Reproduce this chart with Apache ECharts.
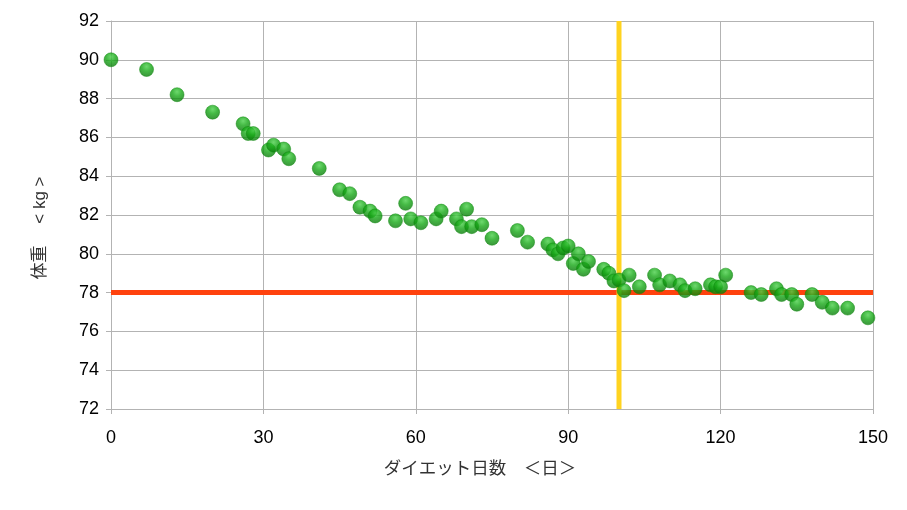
<!DOCTYPE html>
<html>
<head>
<meta charset="utf-8">
<script src="https://cdn.jsdelivr.net/npm/echarts@6/dist/echarts.min.js"></script>
<style>html,body{margin:0;padding:0;background:#fff}#c{width:907px;height:510px}</style>
</head>
<body>
<div id="c"></div>
<script>
var days = [0,7,13,20,26,27,28,31,32,34,35,41,45,47,49,51,52,56,58,59,61,64,65,68,69,70,71,73,75,80,82,86,87,88,89,90,91,92,93,94,97,98,99,100,101,102,104,107,108,110,112,113,115,118,119,120,121,126,128,131,132,134,135,138,140,142,145,149];
var weights = [90.0,89.5,88.2,87.3,86.7,86.2,86.2,85.35,85.6,85.4,84.9,84.4,83.3,83.1,82.4,82.2,81.95,81.7,82.6,81.8,81.6,81.8,82.2,81.8,81.4,82.3,81.4,81.5,80.8,81.2,80.6,80.5,80.2,80.0,80.3,80.4,79.5,80.0,79.2,79.6,79.2,79.0,78.6,78.65,78.1,78.9,78.3,78.9,78.4,78.6,78.4,78.1,78.2,78.4,78.3,78.3,78.9,78.0,77.9,78.2,77.9,77.9,77.4,77.9,77.5,77.2,77.2,76.7];
var targetX = [0,150];
var targetY = [78,78];
var markX = [100,100];
var markY = [72,92];
var xTicks = [0,30,60,90,120,150];
var yTicks = [72,74,76,78,80,82,84,86,88,90,92];

function zip(a,b){return a.map(function(v,i){return [v,b[i]];});}

var chart = echarts.init(document.getElementById('c'), null, {renderer:'canvas'});
var font = '"Liberation Sans", Arial, sans-serif';
var jfont = '"Liberation Sans", "Noto Sans CJK JP", sans-serif';
chart.setOption({
  animation:false,
  grid:{left:111,right:34,top:21,bottom:101,containLabel:false},
  xAxis:{
    type:'value', min:xTicks[0], max:xTicks[xTicks.length-1], interval:30,
    name:'ダイエット日数　＜日＞', nameLocation:'middle', nameGap:51,
    nameTextStyle:{color:'#333',fontSize:17.5,fontFamily:jfont,padding:[0,24,0,0]},
    axisLine:{show:true,lineStyle:{color:'#b3b3b3',width:1}},
    axisTick:{show:true,length:5,inside:false,lineStyle:{color:'#b3b3b3'}},
    axisLabel:{color:'#000',fontSize:18,fontFamily:font,margin:20},
    splitLine:{show:true,lineStyle:{color:'#b3b3b3',width:1}}
  },
  yAxis:{
    type:'value', min:yTicks[0], max:yTicks[yTicks.length-1], interval:2,
    name:'体重　 < kg >', nameLocation:'middle', nameGap:62, nameRotate:90,
    nameTextStyle:{color:'#333',fontSize:17,fontFamily:jfont,padding:[0,0,0,-26]},
    axisLine:{show:true,lineStyle:{color:'#b3b3b3',width:1}},
    axisTick:{show:true,length:5,inside:false,lineStyle:{color:'#b3b3b3'}},
    axisLabel:{color:'#000',fontSize:18,fontFamily:font,margin:12},
    splitLine:{show:true,lineStyle:{color:'#b3b3b3',width:1}}
  },
  series:[
    {type:'line', data:zip(targetX,targetY), symbol:'none', z:1,
     lineStyle:{color:'#ff420e',width:5}},
    {type:'line', data:zip(markX,markY), symbol:'none', z:1,
     lineStyle:{color:'#ffd320',width:5}},
    {type:'scatter', data:zip(days,weights), symbol:'circle', symbolSize:14, z:5,
     itemStyle:{
       color:new echarts.graphic.RadialGradient(0.5,0.3,0.7,[
         {offset:0,color:'#49cf49'},{offset:0.45,color:'#16a816'},{offset:1,color:'#0a7a0a'}
       ]),
       borderColor:'#0d8a0d', borderWidth:0.6
     }}
  ]
});
</script>
</body>
</html>
